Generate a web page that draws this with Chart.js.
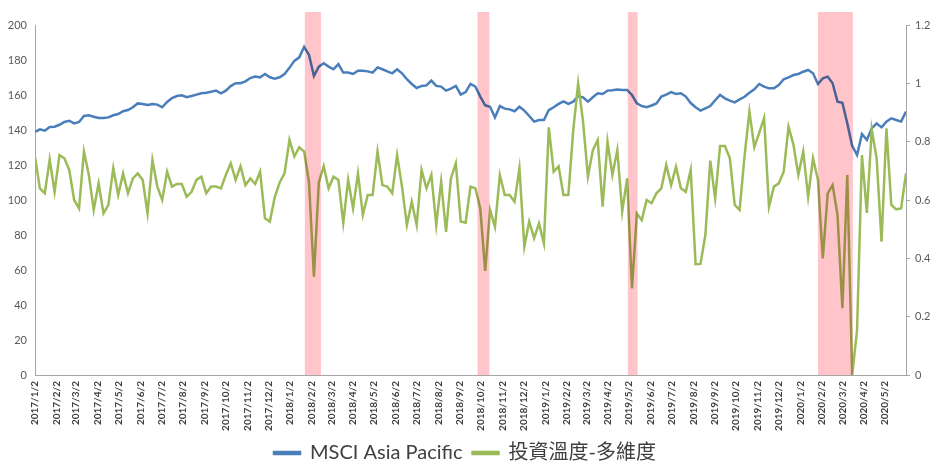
<!DOCTYPE html>
<html>
<head>
<meta charset="utf-8">
<script src="https://cdn.jsdelivr.net/npm/chart.js@4/dist/chart.umd.min.js"></script>
<style>
  html, body { margin: 0; padding: 0; background: #ffffff; }
  #wrap { width: 930px; height: 462px; }
</style>
</head>
<body>
<div id="wrap"><canvas id="chart" width="930" height="462"></canvas></div>
<script>
// Weekly observations, first one on 2017/1/2
const firstWeek = '2017/1/2';

// Month tick labels along the date axis
const monthLabels = [
  '2017/1/2','2017/2/2','2017/3/2','2017/4/2','2017/5/2','2017/6/2','2017/7/2','2017/8/2','2017/9/2','2017/10/2','2017/11/2','2017/12/2',
  '2018/1/2','2018/2/2','2018/3/2','2018/4/2','2018/5/2','2018/6/2','2018/7/2','2018/8/2','2018/9/2','2018/10/2','2018/11/2','2018/12/2',
  '2019/1/2','2019/2/2','2019/3/2','2019/4/2','2019/5/2','2019/6/2','2019/7/2','2019/8/2','2019/9/2','2019/10/2','2019/11/2','2019/12/2',
  '2020/1/2','2020/2/2','2020/3/2','2020/4/2','2020/5/2'
];

// MSCI Asia Pacific index level (left axis)
const msci = [
  138.9,140.4,139.6,141.7,141.9,143.0,144.6,145.3,143.8,144.6,
  148.0,148.4,147.6,146.9,146.9,147.2,148.4,149.1,150.7,151.4,
  153.0,155.2,154.9,154.3,154.9,154.5,153.0,156.0,158.3,159.4,
  159.8,158.7,159.4,160.2,161.0,161.3,161.9,162.5,161.0,162.5,
  165.1,166.7,166.7,167.8,169.7,170.5,170.1,172.0,170.1,169.3,
  170.1,172.0,175.5,179.5,181.5,187.5,182.9,170.9,176.2,178.1,
  176.2,174.7,177.7,172.8,172.8,172.0,173.9,173.9,173.5,172.8,
  175.8,174.7,173.5,172.4,174.7,172.4,169.0,166.3,164.0,165.2,
  165.5,168.2,165.2,164.8,162.5,163.6,165.2,160.2,161.7,166.3,
  164.8,159.1,154.1,153.3,147.2,153.7,152.2,151.8,150.7,153.3,
  151.1,148.0,144.8,145.7,145.7,151.4,153.0,154.9,156.4,154.9,
  156.2,159.4,158.7,156.2,158.7,161.0,160.6,162.5,162.7,163.2,
  162.9,162.9,160.0,155.2,153.7,153.0,154.0,155.2,159.1,160.2,
  161.7,160.6,161.0,159.1,155.4,153.0,151.1,152.4,153.7,157.0,
  160.0,158.1,156.8,155.8,157.5,159.0,161.3,163.2,166.3,164.8,
  163.8,163.8,165.7,169.0,170.1,171.4,172.0,173.3,174.3,172.4,
  166.3,169.5,170.5,166.7,156.2,155.6,143.8,130.9,125.7,137.7,
  134.3,140.9,143.8,141.5,144.8,146.7,145.7,144.8,150.5
];

// Multi-dimension investment temperature (right axis)
const temperature = [
  0.748,0.640,0.623,0.739,0.628,0.754,0.743,0.703,0.600,0.571,
  0.766,0.686,0.566,0.657,0.554,0.583,0.709,0.617,0.691,0.623,
  0.674,0.691,0.669,0.554,0.737,0.646,0.600,0.697,0.646,0.655,
  0.655,0.611,0.628,0.669,0.680,0.623,0.646,0.646,0.640,0.686,
  0.726,0.669,0.716,0.651,0.674,0.655,0.697,0.537,0.526,0.610,
  0.660,0.691,0.806,0.749,0.781,0.766,0.660,0.337,0.660,0.716,
  0.640,0.680,0.669,0.522,0.669,0.571,0.691,0.549,0.617,0.617,
  0.766,0.651,0.646,0.623,0.754,0.646,0.514,0.594,0.514,0.703,
  0.640,0.686,0.514,0.663,0.491,0.674,0.726,0.526,0.522,0.646,
  0.640,0.570,0.357,0.566,0.508,0.686,0.617,0.617,0.594,0.709,
  0.440,0.526,0.469,0.520,0.451,0.849,0.697,0.716,0.617,0.617,
  0.840,1.000,0.869,0.680,0.771,0.806,0.577,0.800,0.686,0.771,
  0.560,0.674,0.297,0.554,0.531,0.600,0.589,0.623,0.640,0.720,
  0.651,0.714,0.640,0.628,0.703,0.380,0.381,0.480,0.735,0.606,
  0.785,0.785,0.743,0.583,0.566,0.750,0.903,0.781,0.830,0.881,
  0.577,0.646,0.657,0.697,0.851,0.789,0.686,0.766,0.611,0.743,
  0.669,0.400,0.623,0.651,0.549,0.229,0.686,0.000,0.154,0.754,
  0.556,0.842,0.743,0.457,0.846,0.583,0.568,0.571,0.691
];

// Market stress periods shaded on the chart
const stressPeriods = [
  ['2018/1/23', '2018/2/15'],
  ['2018/9/27', '2018/10/14'],
  ['2019/4/30', '2019/5/14'],
  ['2020/1/27', '2020/3/17']
];

// Days elapsed since the first weekly observation
function dayOffset(label) {
  const [y, m, d] = label.split('/').map(Number);
  const [y0, m0, d0] = firstWeek.split('/').map(Number);
  return Math.round((Date.UTC(y, m - 1, d) - Date.UTC(y0, m0 - 1, d0)) / 86400000);
}

const weekDays = msci.map((_, i) => i * 7);
const monthTicks = monthLabels.map(dayOffset);

const AXIS_GREY = '#a6a6a6';
const TEXT_GREY = '#595959';
const FONT = 'Lato, "Noto Sans CJK TC", sans-serif';

// Shaded bands blended over the lines
const stressBands = {
  id: 'stressBands',
  afterDatasetsDraw(chart) {
    const { ctx, chartArea, scales } = chart;
    const x = scales.x;
    const top = chartArea.top - 13;
    ctx.save();
    ctx.globalCompositeOperation = 'multiply';
    ctx.fillStyle = 'rgb(255,197,203)';
    stressPeriods.forEach(([from, to]) => {
      const x0 = x.getPixelForValue(dayOffset(from));
      const x1 = x.getPixelForValue(dayOffset(to));
      ctx.fillRect(x0, top, x1 - x0, chartArea.bottom - top);
    });
    ctx.restore();
  }
};

new Chart(document.getElementById('chart'), {
  type: 'line',
  data: {
    datasets: [
      {
        label: 'MSCI Asia Pacific',
        data: msci.map((v, i) => ({ x: weekDays[i], y: v })),
        yAxisID: 'y',
        borderColor: '#4a7ebb',
        backgroundColor: '#4a7ebb',
        borderWidth: 2.5,
        pointRadius: 0,
        tension: 0,
        order: 1
      },
      {
        label: '投資溫度-多維度',
        data: temperature.map((v, i) => ({ x: weekDays[i], y: v })),
        yAxisID: 'y1',
        borderColor: '#9bbb59',
        backgroundColor: '#9bbb59',
        borderWidth: 2.5,
        pointRadius: 0,
        tension: 0,
        order: 0
      }
    ]
  },
  options: {
    responsive: false,
    animation: false,
    layout: { padding: { top: 25, left: 0, right: 0, bottom: -11 } },
    plugins: {
      legend: {
        position: 'bottom',
        labels: {
          boxWidth: 26,
          boxHeight: 2,
          padding: 10,
          color: '#404040',
          font: { family: FONT, size: 20 },
          sort: (a, b) => a.datasetIndex - b.datasetIndex
        }
      },
      tooltip: { enabled: false }
    },
    scales: {
      x: {
        type: 'linear',
        min: 0,
        max: weekDays[weekDays.length - 1],
        afterBuildTicks: (scale) => { scale.ticks = monthTicks.map(v => ({ value: v })); },
        afterFit: (scale) => { scale.height = 58; },
        ticks: {
          autoSkip: false,
          minRotation: 90,
          maxRotation: 90,
          padding: 6,
          color: '#404040',
          font: { family: FONT, size: 10, weight: 'bold' },
          callback: (value, index) => monthLabels[index]
        },
        grid: { display: false, drawTicks: false },
        border: { display: true, color: AXIS_GREY, width: 1 }
      },
      y: {
        position: 'left',
        min: 0,
        max: 200,
        afterFit: (scale) => { scale.width = 35; },
        ticks: {
          stepSize: 20,
          padding: 8,
          color: TEXT_GREY,
          font: { family: FONT, size: 11 }
        },
        grid: { display: false, drawTicks: false },
        border: { display: true, color: AXIS_GREY, width: 1 }
      },
      y1: {
        position: 'right',
        min: 0,
        max: 1.2,
        afterFit: (scale) => { scale.width = 24; },
        ticks: {
          stepSize: 0.2,
          padding: 5,
          color: TEXT_GREY,
          font: { family: FONT, size: 11 },
          callback: (v) => String(Math.round(v * 10) / 10)
        },
        grid: { display: true, drawOnChartArea: false, drawTicks: true, tickLength: 4, color: AXIS_GREY },
        border: { display: true, color: AXIS_GREY, width: 1 }
      }
    }
  },
  plugins: [stressBands]
});
</script>
</body>
</html>
